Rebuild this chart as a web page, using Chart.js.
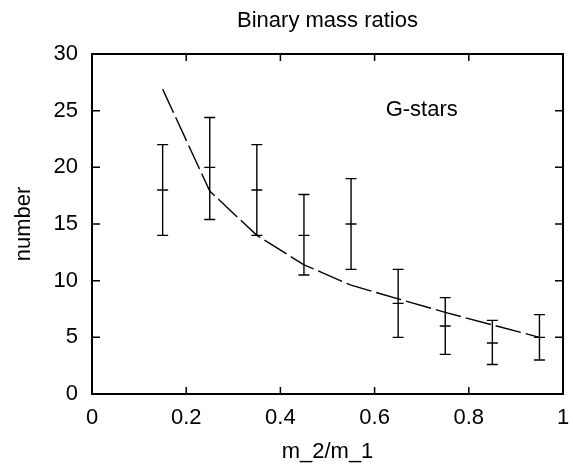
<!DOCTYPE html>
<html>
<head>
<meta charset="utf-8">
<script src="https://cdn.jsdelivr.net/npm/chart.js@4"></script>
<style>
  html, body { margin: 0; padding: 0; background: #fff; }
  #wrap { width: 573px; height: 465px; }
</style>
</head>
<body>
<div id="wrap"><canvas id="massChart" width="573" height="465"></canvas></div>
<script>
// mass ratio bins and G-star counts with error bars
var ratios = [0.15, 0.25, 0.35, 0.45, 0.55, 0.65, 0.75, 0.85, 0.95];
var counts = [18, 20, 18, 14, 15, 8, 6, 4.5, 5];
var countLow = [14, 15.4, 14, 10.5, 11, 5, 3.5, 2.6, 3];
var countHigh = [22, 24.4, 22, 17.6, 19, 11, 8.5, 6.5, 7];
// model curve (dashed)
var modelVals = [26.9, 17.9, 14, 11.4, 9.6, 8.4, 7.2, 6.1, 5];

var xTicks = [0, 0.2, 0.4, 0.6, 0.8, 1];
var yTicks = [0, 5, 10, 15, 20, 25, 30];

var fontFam = '"Liberation Sans", Arial, Helvetica, sans-serif';
var fontSize = 22;

// error bars drawn through the scales
var errorBarPlugin = {
  id: 'errorBars',
  afterDatasetsDraw: function(chart) {
    var ctx = chart.ctx;
    var xs = chart.scales.x, ys = chart.scales.y;
    ctx.save();
    ctx.strokeStyle = '#000';
    ctx.lineWidth = 1.4;
    for (var i = 0; i < ratios.length; i++) {
      var px = xs.getPixelForValue(ratios[i]);
      var top = ys.getPixelForValue(countHigh[i]);
      var bot = ys.getPixelForValue(countLow[i]);
      var mid = ys.getPixelForValue(counts[i]);
      ctx.beginPath();
      ctx.moveTo(px, top); ctx.lineTo(px, bot);
      ctx.moveTo(px - 5.5, top); ctx.lineTo(px + 5.5, top);
      ctx.moveTo(px - 5.5, bot); ctx.lineTo(px + 5.5, bot);
      ctx.moveTo(px - 5.5, mid); ctx.lineTo(px + 5.5, mid);
      ctx.stroke();
    }
    ctx.restore();
  }
};

// frame, inward ticks on all four sides, title over the plot, and the G-stars label
var framePlugin = {
  id: 'frame',
  afterDraw: function(chart) {
    var ctx = chart.ctx;
    var a = chart.chartArea;
    var xs = chart.scales.x, ys = chart.scales.y;
    ctx.save();
    ctx.strokeStyle = '#000';
    ctx.lineWidth = 2;
    ctx.strokeRect(a.left, a.top, a.right - a.left, a.bottom - a.top);
    ctx.lineWidth = 1.5;
    ctx.beginPath();
    xTicks.forEach(function(v) {
      var p = xs.getPixelForValue(v);
      ctx.moveTo(p, a.bottom); ctx.lineTo(p, a.bottom - 7);
      ctx.moveTo(p, a.top); ctx.lineTo(p, a.top + 7);
    });
    yTicks.forEach(function(v) {
      var p = ys.getPixelForValue(v);
      ctx.moveTo(a.left, p); ctx.lineTo(a.left + 8, p);
      ctx.moveTo(a.right, p); ctx.lineTo(a.right - 8, p);
    });
    ctx.stroke();
    ctx.fillStyle = '#000';
    ctx.font = fontSize + 'px ' + fontFam;
    ctx.textAlign = 'center';
    ctx.textBaseline = 'middle';
    ctx.fillText('Binary mass ratios', (a.left + a.right) / 2, 21);
    ctx.fillText('G-stars', xs.getPixelForValue(0.70), ys.getPixelForValue(25.1));
    ctx.restore();
  }
};

var massChart = new Chart(document.getElementById('massChart'), {
  type: 'line',
  data: {
    datasets: [{
      label: 'model',
      data: ratios.map(function(r, i) { return { x: r, y: modelVals[i] }; }),
      borderColor: '#000',
      borderWidth: 1.4,
      borderDash: [26, 5],
      pointRadius: 0,
      tension: 0,
      fill: false
    }]
  },
  options: {
    responsive: false,
    animation: false,
    devicePixelRatio: 1,
    layout: { padding: { top: 54, right: 0, bottom: 0, left: 0 } },
    plugins: {
      legend: { display: false },
      tooltip: { enabled: false },
      title: { display: false }
    },
    scales: {
      x: {
        type: 'linear',
        min: 0, max: 1,
        afterBuildTicks: function(s) { s.ticks = xTicks.map(function(v) { return { value: v }; }); },
        grid: { display: false, drawTicks: false },
        border: { display: false },
        ticks: {
          color: '#000', padding: 11,
          font: { family: fontFam, size: fontSize },
          maxRotation: 0,
          callback: function(v) { return String(v); }
        },
        title: {
          display: true, text: 'm_2/m_1', color: '#000',
          font: { family: fontFam, size: fontSize },
          padding: { top: 6, bottom: 0 }
        },
        afterFit: function(s) { s.height = 71; s.paddingRight = 10; s.paddingLeft = 0; }
      },
      y: {
        min: 0, max: 30,
        afterBuildTicks: function(s) { s.ticks = yTicks.map(function(v) { return { value: v }; }); },
        grid: { display: false, drawTicks: false },
        border: { display: false },
        ticks: {
          color: '#000', padding: 14,
          font: { family: fontFam, size: fontSize }
        },
        title: {
          display: true, text: 'number', color: '#000',
          font: { family: fontFam, size: fontSize },
          padding: { top: 11, bottom: 0 }
        },
        afterFit: function(s) { s.width = 92; }
      }
    }
  },
  plugins: [errorBarPlugin, framePlugin]
});
</script>
</body>
</html>
